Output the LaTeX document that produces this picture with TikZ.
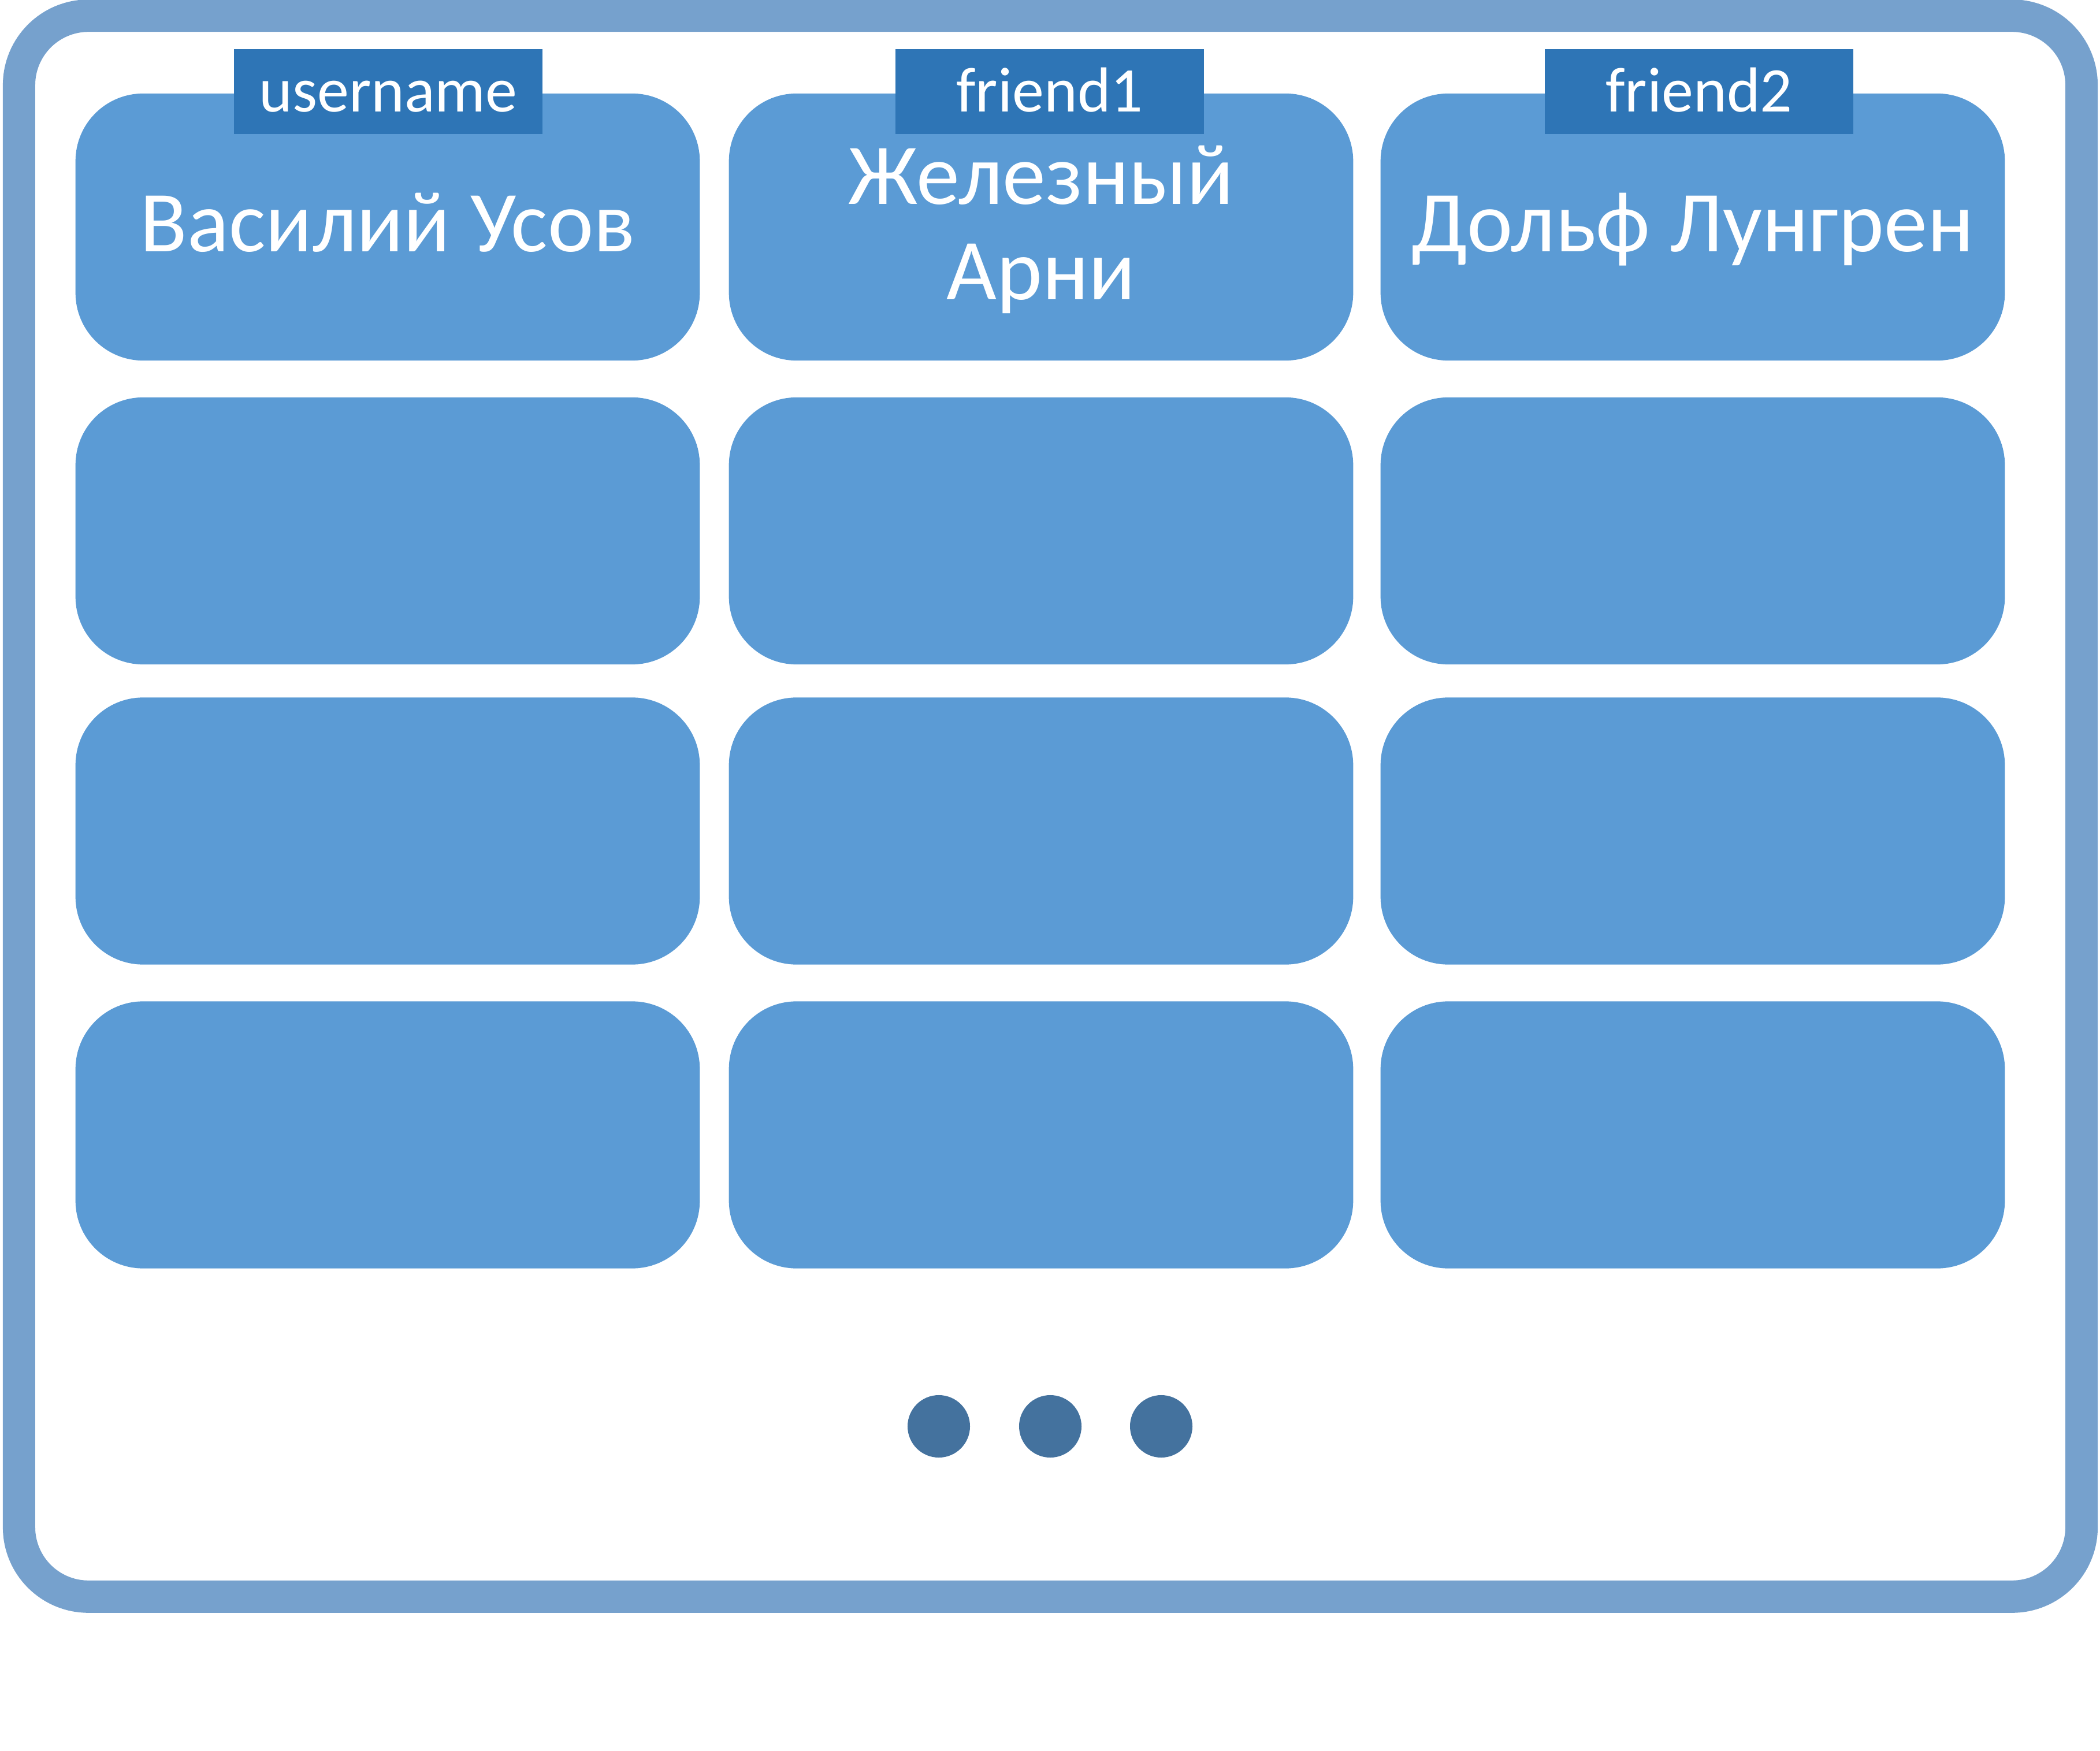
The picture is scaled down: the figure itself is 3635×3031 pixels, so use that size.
\documentclass[tikz,border=0pt]{standalone}
\usepackage{fontspec}
\setmainfont{Carlito}
\definecolor{framecol}{HTML}{76A1CD}
\definecolor{boxcol}{HTML}{5B9BD5}
\definecolor{labcol}{HTML}{2E75B6}
\definecolor{dotcol}{HTML}{44729E}
\tikzset{
  cellbox/.style={draw=none, fill=boxcol, rounded corners=1.17cm, minimum width=10.8cm, minimum height=4.62cm, inner sep=0pt},
  colhead/.style={fill=labcol, minimum width=5.34cm, minimum height=1.47cm, inner sep=0pt, text=white, font=\fontsize{31.3}{36}\selectfont, text height=1.0cm, text depth=0.31cm},
  celltext/.style={text=white, font=\fontsize{42.7}{47.2}\selectfont, anchor=base, inner sep=0pt, align=center},
  framebox/.style={draw=framecol, line width=0.56cm, rounded corners=1.2cm, minimum width=35.68cm, minimum height=27.35cm, inner sep=0pt},
  moredot/.style={circle, fill=dotcol, minimum size=1.08cm, inner sep=0pt}
}
\begin{document}
\begin{tikzpicture}[x=0.01cm, y=-0.01cm]
\useasboundingbox (0,0) rectangle (3635,3031);
\node[framebox] (frame) at (1818,1395.5) {};
% cells
\foreach \c/\cx in {1/671, 2/1802, 3/2930}{
  \foreach \r/\ry in {1/393, 2/919, 3/1438.5, 4/1964.5}{
    \node[cellbox] (b\r\c) at (\cx,\ry) {};
  }
}
% cell texts
\node[celltext] (t11) at (671,436) {Василий Усов};
\node[celltext] (t12) at (1802,519) {Железный\\Арни};
\node[celltext] (t13) at (2930,436) {Дольф Лунгрен};
% column headers
\node[colhead] (h1) at (672,158.5) {username};
\node[colhead] (h2) at (1817,158.5) {friend1};
\node[colhead] (h3) at (2941,158.5) {friend2};
% dots
\node[moredot] (d1) at (1625,2469) {};
\node[moredot] (d2) at (1818,2469) {};
\node[moredot] (d3) at (2010,2469) {};
\end{tikzpicture}
\end{document}
